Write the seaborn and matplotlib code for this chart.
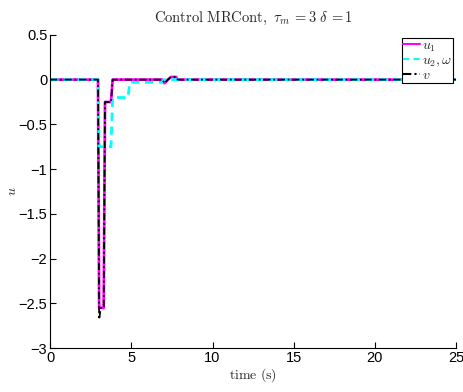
import matplotlib
matplotlib.use("Agg")
import matplotlib.pyplot as plt
import numpy as np
import pandas as pd
import seaborn as sns

# step responses
t_u1 = [0, 2.95, 3.02, 3.3, 3.38, 3.75, 3.85, 6.9, 7.05, 7.25, 7.45, 7.75, 7.85, 25]
u1 = [0, 0, -2.55, -2.55, -0.25, -0.25, 0, 0, -0.04, 0, 0.03, 0.03, 0, 0]

t_u2 = [0, 2.95, 3.02, 3.75, 3.85, 4.8, 4.9, 6.9, 7.0, 25]
u2 = [0, 0, -0.75, -0.75, -0.2, -0.2, -0.03, -0.03, 0, 0]

t_v = [0, 2.95, 3.02, 3.12, 3.3, 3.38, 3.75, 3.85, 6.9, 7.05, 7.25, 7.45, 7.75, 7.85, 25]
v = [0, 0, -2.68, -2.55, -2.55, -0.25, -0.25, 0, 0, -0.04, 0, 0.03, 0.03, 0, 0]

sns.set_style("white")
plt.rcParams['font.family'] = ['Liberation Sans', 'DejaVu Sans']
plt.rcParams['mathtext.fontset'] = 'cm'

fig = plt.figure(figsize=(4.64, 3.92), dpi=100)
ax = fig.add_axes([0.108, 0.112, 0.875, 0.799])

df1 = pd.DataFrame({"t": t_u1, "u": u1})
df2 = pd.DataFrame({"t": t_u2, "u": u2})
df3 = pd.DataFrame({"t": t_v, "u": v})

sns.lineplot(data=df1, x="t", y="u", ax=ax, color="magenta", lw=2,
             sort=False, estimator=None, label=r"$u_1$")
sns.lineplot(data=df2, x="t", y="u", ax=ax, color="cyan", lw=2,
             sort=False, estimator=None, label=r"$u_2,\omega$")
ax.lines[-1].set_linestyle((0, (3, 2)))
sns.lineplot(data=df3, x="t", y="u", ax=ax, color="black", lw=1.3,
             sort=False, estimator=None, label=r"$v$")
ax.lines[-1].set_linestyle((0, (4, 1.5, 1, 1.5)))

ax.set_xlim(0, 25)
ax.set_ylim(-3, 0.5)
ax.set_xticks([0, 5, 10, 15, 20, 25])
ax.set_yticks([0.5, 0, -0.5, -1, -1.5, -2, -2.5, -3])
ax.set_yticklabels(["0.5", "0", "\u22120.5", "\u22121", "\u22121.5", "\u22122", "\u22122.5", "\u22123"])
ax.tick_params(direction="in", length=4, width=0.8, labelsize=10.5, colors="black",
               left=True, bottom=True, pad=2)
for s in ["top", "right"]:
    ax.spines[s].set_visible(False)
for s in ["left", "bottom"]:
    ax.spines[s].set_color("black")
    ax.spines[s].set_linewidth(0.8)

ax.set_title(r"$\mathrm{Control\ MRCont,}\ \tau_m\,\mathrm{=3}\ \delta\,\mathrm{=1}$", fontsize=10.5, pad=9)
ax.set_xlabel(r"$\mathrm{time\ (s)}$", fontsize=10, labelpad=1)
ax.set_ylabel(r"$u$", fontsize=10)
ax.yaxis.set_label_coords(-0.077, 0.5)

leg = ax.legend(loc="upper right", fontsize=10, frameon=True, fancybox=False,
                edgecolor="black", framealpha=1, borderpad=0.05, labelspacing=-0.05,
                handlelength=1.25, handletextpad=0.15, borderaxespad=0.2)
leg.get_frame().set_linewidth(0.8)
for h in leg.get_lines():
    h.set_linewidth(1.5)

fig.savefig("out.png", dpi=100)
